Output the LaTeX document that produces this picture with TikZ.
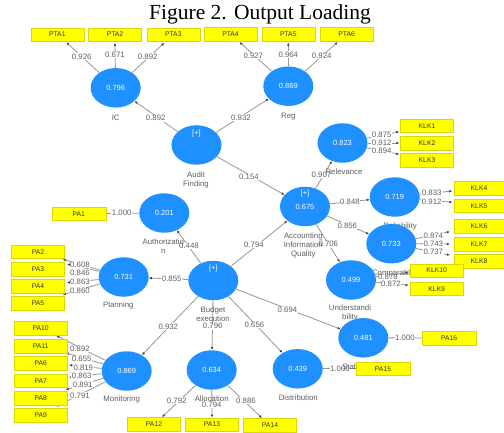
\documentclass[tikz,border=0pt]{standalone}
\usepackage{fontspec}
\setmainfont{Liberation Serif}
\setsansfont{Liberation Sans}
\usetikzlibrary{shapes.geometric,arrows.meta,calc}
\pgfdeclarelayer{bg}
\pgfdeclarelayer{mid}
\pgfsetlayers{bg,mid,main}
\definecolor{cblue}{RGB}{30,144,255}
\definecolor{cyel}{RGB}{255,255,0}
\definecolor{cline}{RGB}{150,150,150}
\definecolor{ctext}{RGB}{95,95,95}
\begin{document}
\begin{tikzpicture}[x=1pt,y=-1pt,
  lv/.style={ellipse,fill=cblue,minimum width=50pt,minimum height=39.5pt,inner sep=0pt,text=white,font=\sffamily\fontsize{7.5}{8}\selectfont},
  lvt/.style={text=white,font=\sffamily\fontsize{7.5}{8}\selectfont,inner sep=0pt},
  ind/.style={rectangle,fill=cyel,draw=cyel!85!black,line width=0.3pt,minimum width=53pt,minimum height=13.5pt,inner sep=0pt,font=\sffamily\fontsize{6.8}{7}\selectfont,text=black!80},
  indn/.style={ind,minimum width=50pt},
  nm/.style={font=\sffamily\fontsize{7.8}{9}\selectfont,text=ctext,inner sep=0pt,align=center},
  ld/.style={font=\sffamily\fontsize{7.8}{8}\selectfont,text=ctext,fill=white,inner sep=0.6pt},
  ln/.style={draw=cline,line width=0.8pt},
  ar/.style={ln,-{Latex[length=3pt,width=2.6pt,color=black!75]}},
]
\begin{pgfonlayer}{bg}
\fill[white] (0,0) rectangle (504,433);
\end{pgfonlayer}
\useasboundingbox (0,0) rectangle (504,433);

\node[font=\fontsize{21.5}{24}\selectfont,anchor=base,inner sep=0pt] (title) at (260,19.5) {Figure 2. Output Loading};

% latent variables
\node[lv] (ic) at (115.7,87.8) {0.796};
\node[lv] (reg) at (288.3,86.2) {0.869};
\node[lv,label={[lvt,yshift=11pt]center:[+]}] (audit) at (196.5,145) {};
\node[lv] (relev) at (342.5,143) {0.823};
\node[lv] (auth) at (164.3,213) {0.201};
\node[lv,label={[lvt,yshift=12.5pt]center:[+]}] (aiq) at (305,206.5) {0.675};
\node[lv] (relia) at (394.7,197) {0.719};
\node[lv] (comp) at (391.3,243.7) {0.733};
\node[lv] (plan) at (123.7,277) {0.731};
\node[lv,label={[lvt,yshift=11.5pt]center:[+]}] (budget) at (213.3,280.5) {};
\node[lv] (under) at (351,280) {0.499};
\node[lv] (stab) at (363.3,337.8) {0.481};
\node[lv] (mon) at (126.7,371) {0.869};
\node[lv] (alloc) at (211.7,370) {0.634};
\node[lv] (dist) at (297.7,368.8) {0.439};

% indicators
\node[ind] (pta1) at (57.3,34.5) {PTA1};
\node[ind] (pta2) at (115,34.5) {PTA2};
\node[ind] (pta3) at (173.3,34.5) {PTA3};
\node[ind] (pta4) at (230.5,34.2) {PTA4};
\node[ind] (pta5) at (288.3,34.2) {PTA5};
\node[ind] (pta6) at (346.7,34.2) {PTA6};
\node[ind] (klk1) at (427,125.7) {KLK1};
\node[ind] (klk2) at (427,143) {KLK2};
\node[ind] (klk3) at (427,160.3) {KLK3};
\node[indn] (klk4) at (479,188.3) {KLK4};
\node[indn] (klk5) at (479,205.7) {KLK5};
\node[indn] (klk6) at (479,226.3) {KLK6};
\node[indn] (klk7) at (479,244) {KLK7};
\node[indn] (klk8) at (479,261) {KLK8};
\node[ind] (klk10) at (436.7,270.5) {KLK10};
\node[ind] (klk9) at (436.7,288.7) {KLK9};
\node[ind,minimum width=54pt] (pa1) at (78.8,213.7) {PA1};
\node[ind] (pa2) at (38,251.7) {PA2};
\node[ind] (pa3) at (38,269) {PA3};
\node[ind] (pa4) at (38,286) {PA4};
\node[ind] (pa5) at (38,303.3) {PA5};
\node[ind] (pa10) at (40.7,328.3) {PA10};
\node[ind] (pa11) at (40.7,346) {PA11};
\node[ind] (pa6) at (40.7,363.3) {PA6};
\node[ind] (pa7) at (40.7,380.7) {PA7};
\node[ind] (pa8) at (40.7,398.3) {PA8};
\node[ind] (pa9) at (40.7,415) {PA9};
\node[ind] (pa12) at (154,424) {PA12};
\node[ind] (pa13) at (212,424.5) {PA13};
\node[ind] (pa14) at (270,425) {PA14};
\node[ind,minimum width=54pt] (pa16) at (449.2,338) {PA16};
\node[ind,minimum width=54pt] (pa15) at (383,368.8) {PA15};

\begin{pgfonlayer}{mid}
\node[nm] (nic) at (115.7,118.3) {IC};
\node[nm] (nreg) at (288.3,116.7) {Reg};
\node[nm] (naudit) at (196,179.5) {Audit\\Finding};
\node[nm] (nrelev) at (344,172) {Relevance};
\node[nm] (nauth) at (163.3,246.2) {Authorizatio\\n};
\node[nm] (nplan) at (118.3,305.7) {Planning};
\node[nm] (naiq) at (303.3,245.3) {Accounting\\Information\\Quality};
\node[nm] (nrelia) at (400,226.7) {Reliability};
\node[nm] (ncomp) at (393.3,273) {Comparable};
\node[nm] (nunder) at (350,313.3) {Understandi\\bility};
\node[nm] (nstab) at (363.3,367) {Stabilization};
\node[nm] (ndist) at (298.3,397.7) {Distribution};
\node[nm] (nmon) at (121.7,399.3) {Monitoring};
\node[nm] (nbudget) at (213,314.7) {Budget\\execution};
\node[nm] (nalloc) at (211.7,399) {Allocation};
\end{pgfonlayer}

\begin{pgfonlayer}{bg}
% structural paths
\draw[ar] (audit) -- (ic);
\draw[ar] (audit) -- (reg);
\draw[ar] (audit) -- (aiq);
\draw[ar] (aiq) -- (relev);
\draw[ar] (aiq) -- (relia);
\draw[ar] (aiq) -- (comp);
\draw[ar] (aiq) -- (under);
\draw[ar] (budget) -- (auth);
\draw[ar] (budget) -- (plan);
\draw[ar] (budget) -- (aiq);
\draw[ar] (budget) -- (mon);
\draw[ar] (budget) -- (alloc);
\draw[ar] (budget) -- (dist);
\draw[ar] (budget) -- (stab);
% outer loadings
\draw[ar] (ic) -- ($(pta1.south)+(9,1)$);
\draw[ar] (ic) -- ($(pta2.south)+(0,1.5)$);
\draw[ar] (ic) -- ($(pta3.south)+(-9,1.5)$);
\draw[ar] (reg) -- ($(pta4.south)+(9,1)$);
\draw[ar] (reg) -- ($(pta5.south)+(0,1.5)$);
\draw[ar] (reg) -- ($(pta6.south)+(-9,1)$);
\draw[ar] (relev) -- ($(klk1.west)+(-1,6)$);
\draw[ar] (relev) -- ($(klk2.west)+(-1,0)$);
\draw[ar] (relev) -- ($(klk3.west)+(-1,-6)$);
\draw[ar] (relia) -- ($(klk4.west)+(-1.5,2.7)$);
\draw[ar] (relia) -- ($(klk5.west)+(-1.5,-3.4)$);
\draw[ar] (comp) -- ($(klk6.south west)+(-4,-1.5)$);
\draw[ar] (comp) -- ($(klk7.west)+(-4,0)$);
\draw[ar] (comp) -- ($(klk8.north west)+(-4,1)$);
\draw[ar] (under) -- ($(klk10.west)+(-1.5,2)$);
\draw[ar] (under) -- ($(klk9.west)+(-1.5,-3.5)$);
\draw[ar] (plan) -- ($(pa2.south east)+(-2,0.7)$);
\draw[ar] (plan) -- ($(pa3.east)+(2.4,-5)$);
\draw[ar] (plan) -- ($(pa4.east)+(2.4,-3.3)$);
\draw[ar] (plan) -- ($(pa5.north east)+(-2,-1.7)$);
\draw[ar] (mon) -- ($(pa10.south east)+(-11,0.5)$);
\draw[ar] (mon) -- ($(pa11.south east)+(-1.6,0)$);
\draw[ar] (mon) -- ($(pa6.east)+(1.7,1.7)$);
\draw[ar] (mon) -- ($(pa7.east)+(1.7,-3.4)$);
\draw[ar] (mon) -- ($(pa8.north east)+(-1.6,-1.7)$);
\draw[ar] (mon) -- ($(pa9.north east)+(-11,-1.6)$);
\draw[ar] (alloc) -- ($(pa12.north)+(8,0)$);
\draw[ar] (alloc) -- (pa13.north);
\draw[ar] (alloc) -- ($(pa14.north)+(-8,0)$);
\draw[ln] (auth) -- (pa1);
\draw[ln] (stab) -- (pa16);
\draw[ln] (dist) -- (pa15);
% coefficient labels
\foreach \t/\x/\y [count=\i] in {
  0.926/81.7/56.7, 0.671/115/55, 0.892/147.7/56.7,
  0.927/253.3/56, 0.964/288.3/54.7, 0.924/321.7/56,
  0.875/381.7/135, 0.912/381.7/142.7, 0.894/381.7/151,
  0.833/431.7/192.7, 0.912/431.7/201.7,
  0.874/433.3/236, 0.743/433.3/244, 0.737/433.3/251.7,
  0.878/388/276.5, 0.872/391/284.3,
  0.608/80/265, 0.846/80/272.7, 0.863/80/281.7, 0.860/80/291,
  0.892/80/349, 0.655/81.7/359.3, 0.819/83.3/368, 0.863/81.7/376, 0.891/82.7/384.7, 0.791/80/395.7,
  0.792/176.7/400.7, 0.794/211.7/405, 0.886/246/400.7,
  1.000/121.7/213.3, 1.000/405/338.3, 1.000/340/369,
  0.892/155.7/118.3, 0.932/241/117.5, 0.154/249/177,
  0.907/321.5/174.5, 0.848/350/202.3, 0.856/347.3/225.7, 0.706/328.3/244.3,
  0.448/189/246, 0.855/171.7/279.3, 0.794/254/244.5, 0.932/168.3/326.7,
  0.796/212.7/326.3, 0.656/254.5/325, 0.694/287.5/310}
  \node[ld] (ld\i) at (\x,\y) {\t};
\end{pgfonlayer}
\end{tikzpicture}
\end{document}
